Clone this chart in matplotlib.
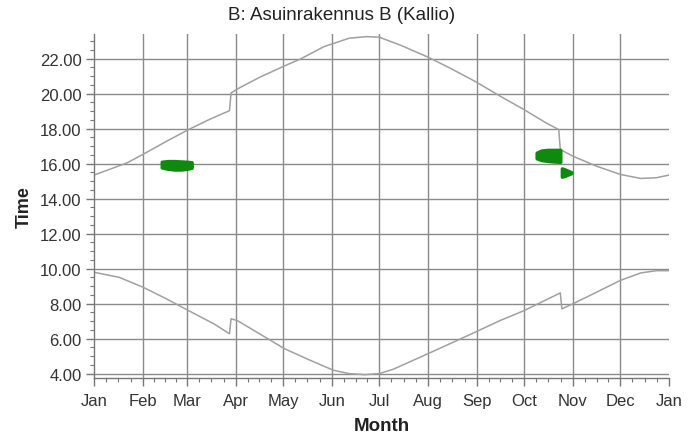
import numpy as np
import matplotlib
matplotlib.use("Agg")
import matplotlib.pyplot as plt
from matplotlib.ticker import FixedLocator, MultipleLocator, FormatStrFormatter

plt.rcParams['font.family'] = ['Liberation Sans', 'DejaVu Sans']

# day of year (0 = 1 Jan) and local clock time
sunset_day = [0, 21, 31, 46, 60, 74, 86, 87, 91, 105, 120, 131, 146, 162, 173, 181,
              194, 212, 226, 242, 258, 273, 287, 295, 296, 304, 319, 334, 347, 357, 365]
sunset = [15.34, 16.04, 16.52, 17.27, 17.94, 18.55, 19.02, 20.03, 20.26, 20.92, 21.54, 21.97,
          22.68, 23.16, 23.25, 23.22, 22.78, 22.08, 21.45, 20.69, 19.84, 19.08, 18.32, 17.94,
          16.80, 16.42, 15.85, 15.38, 15.15, 15.19, 15.34]

sunrise_day = [0, 16, 31, 46, 60, 76, 86, 87, 91, 105, 121, 135, 152, 162, 172, 181,
               190, 212, 226, 242, 258, 273, 296, 297, 304, 319, 334, 347, 357, 365]
sunrise = [9.79, 9.50, 8.94, 8.27, 7.60, 6.85, 6.28, 7.13, 7.03, 6.28, 5.42, 4.85, 4.19, 4.00,
           3.94, 4.00, 4.25, 5.14, 5.71, 6.37, 7.04, 7.60, 8.61, 7.70, 7.99, 8.65, 9.32, 9.75,
           9.88, 9.88]

# shadow periods (start / end time of shadow on each day)
shadow1_day = [43, 47, 51, 55, 59, 62]
shadow1_lo = [15.78, 15.70, 15.66, 15.66, 15.70, 15.76]
shadow1_hi = [16.10, 16.14, 16.14, 16.12, 16.10, 16.07]

shadow2_day = [281, 284, 288, 292, 296]
shadow2_lo = [16.30, 16.20, 16.15, 16.12, 16.10]
shadow2_hi = [16.62, 16.74, 16.78, 16.78, 16.78]

shadow3_day = [297, 299, 301, 303]
shadow3_lo = [15.25, 15.30, 15.38, 15.45]
shadow3_hi = [15.72, 15.66, 15.58, 15.50]

month_start = [0, 31, 59, 90, 120, 151, 181, 212, 243, 273, 304, 334, 365]
month_names = ['Jan', 'Feb', 'Mar', 'Apr', 'May', 'Jun', 'Jul', 'Aug', 'Sep',
               'Oct', 'Nov', 'Dec', 'Jan']

fig = plt.figure(figsize=(6.97, 4.35), dpi=100)
ax = fig.add_axes([94 / 697, 1 - 379 / 435, 575 / 697, 344 / 435])

grid_col = '#8a8a8a'
for d in month_start[1:-1]:
    ax.axvline(d, color=grid_col, lw=1.0, zorder=1)
for h in range(4, 23, 2):
    ax.axhline(h, color=grid_col, lw=1.0, zorder=1)

ax.plot(sunset_day, sunset, color='#a0a0a0', lw=1.1, zorder=2)
ax.plot(sunrise_day, sunrise, color='#a0a0a0', lw=1.1, zorder=2)

green = '#0f8a0f'
for days, lo, hi in [(shadow1_day, shadow1_lo, shadow1_hi),
                     (shadow2_day, shadow2_lo, shadow2_hi),
                     (shadow3_day, shadow3_lo, shadow3_hi)]:
    ax.fill_between(days, lo, hi, facecolor=green, edgecolor=green, lw=2.5,
                    joinstyle='round', zorder=3)

ax.set_xlim(0, 365)
ax.set_ylim(3.75, 23.4)

ax.xaxis.set_major_locator(FixedLocator(month_start))
ax.set_xticklabels(month_names)
minor_x = []
for a, b in zip(month_start[:-1], month_start[1:]):
    minor_x += [a + (b - a) * k / 4 for k in (1, 2, 3)]
ax.xaxis.set_minor_locator(FixedLocator(minor_x))

ax.yaxis.set_major_locator(FixedLocator(range(4, 23, 2)))
ax.yaxis.set_major_formatter(FormatStrFormatter('%.2f'))
ax.yaxis.set_minor_locator(MultipleLocator(0.5))

for s in ['top', 'right']:
    ax.spines[s].set_visible(False)
for s in ['left', 'bottom']:
    ax.spines[s].set_color('#777777')
    ax.spines[s].set_linewidth(1.0)

ax.tick_params(which='major', length=6, width=1, color='#777777',
               labelsize=12, labelcolor='#333333', pad=3)
ax.tick_params(which='minor', length=3, width=0.8, color='#777777')
ax.tick_params(axis='x', which='major', pad=5)

ax.set_xlabel('Month', fontsize=13.5, fontweight='bold', color='#222222', labelpad=6)
ax.set_ylabel('Time', fontsize=13, fontweight='bold', color='#222222', labelpad=5)

fig.text(342 / 697, 1 - 15 / 435, 'B: Asuinrakennus B (Kallio)', ha='center', va='center',
         fontsize=13.5, color='#222222')

fig.savefig('out.png', dpi=100)
